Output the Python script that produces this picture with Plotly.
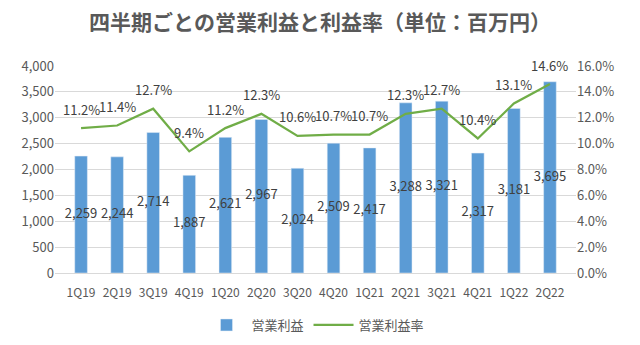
import plotly.graph_objects as go

quarters = ["1Q19","2Q19","3Q19","4Q19","1Q20","2Q20","3Q20","4Q20","1Q21","2Q21","3Q21","4Q21","1Q22","2Q22"]
profit = [2259, 2244, 2714, 1887, 2621, 2967, 2024, 2509, 2417, 3288, 3321, 2317, 3181, 3695]
margin = [0.112, 0.114, 0.127, 0.094, 0.112, 0.123, 0.106, 0.107, 0.107, 0.123, 0.127, 0.104, 0.131, 0.146]

FONT = "Noto Sans CJK JP"
TXT = "#595959"
LBL = "#404040"

fig = go.Figure()
fig.add_trace(go.Bar(x=quarters, y=profit, name="営業利益", marker_color="#5B9BD5",
                     width=0.35, hoverinfo="skip"))
fig.add_trace(go.Scatter(x=quarters, y=[v / 2 for v in profit], mode="text",
                         text=[f"{v:,}" for v in profit], textposition="middle center",
                         textfont=dict(family=FONT, size=13, color=LBL),
                         showlegend=False, hoverinfo="skip"))
fig.add_trace(go.Scatter(x=quarters, y=margin, name="営業利益率", yaxis="y2",
                         mode="lines", line=dict(color="#70AD47", width=2.25),
                         hoverinfo="skip"))

for q, m in zip(quarters, margin):
    fig.add_annotation(x=q, y=m, yref="y2", text=f"{m*100:.1f}%", showarrow=False,
                       yshift=19, font=dict(family=FONT, size=13, color=LBL))

fig.update_layout(
    width=640, height=345,
    margin=dict(l=55, r=64, t=66, b=72, autoexpand=False),
    paper_bgcolor="white", plot_bgcolor="white",
    font=dict(family=FONT, color=TXT, size=12),
    title=dict(text="四半期ごとの営業利益と利益率（単位：百万円）", x=0.5, xanchor="center",
               y=0.935, yanchor="middle",
               font=dict(family=FONT, size=21, color=TXT, weight="bold")),
    bargap=0.65,
    xaxis=dict(showgrid=False, showline=True, linecolor="#D9D9D9", ticks="outside",
               ticklen=9, tickcolor="rgba(0,0,0,0)",
               tickfont=dict(size=12, color=TXT)),
    yaxis=dict(range=[0, 4000], dtick=500, tickformat=",", gridcolor="#D9D9D9",
               zeroline=False, tickfont=dict(size=13, color=TXT), ticks="", ticklen=0),
    yaxis2=dict(range=[0, 0.16], dtick=0.02, tickformat=".1%", overlaying="y", side="right",
                showgrid=False, zeroline=False, tickfont=dict(size=13, color=TXT)),
    legend=dict(orientation="h", x=0.5, xanchor="center", yref="container", y=0.058,
                yanchor="middle", font=dict(size=13, color=TXT), itemwidth=40),
)

fig.write_html("out.html")
